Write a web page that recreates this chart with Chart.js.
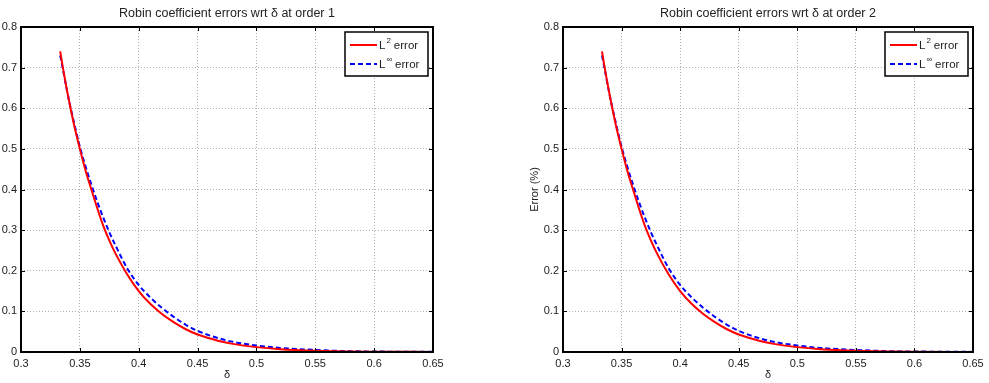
<!DOCTYPE html>
<html lang="en">
<head>
  <meta charset="UTF-8">
  <script src="https://cdn.jsdelivr.net/npm/chart.js"></script>
  <title>Robin coefficient errors</title>
  <style>
    body{margin:0;background:#fff;width:989px;height:383px;overflow:hidden;}
    .box{position:absolute;top:0;height:383px;}
    #wrap1{left:0;width:490px;}
    #wrap2{left:490px;width:499px;}
  </style>
</head>
<body>
  <div class="box" id="wrap1"><canvas id="chart1"></canvas></div>
  <div class="box" id="wrap2"><canvas id="chart2"></canvas></div>
<script>
  // data
  const deltaValues = [0.3333, 0.335, 0.34, 0.345, 0.35, 0.355, 0.36, 0.365, 0.37, 0.375, 0.38, 0.39, 0.40, 0.41, 0.42, 0.43, 0.44, 0.45, 0.46, 0.47, 0.48, 0.50, 0.52, 0.55, 0.58, 0.60, 0.65]
  const l2Order1   = [0.74, 0.71, 0.63, 0.56, 0.50, 0.445, 0.398, 0.352, 0.31, 0.275, 0.244, 0.192, 0.15, 0.118, 0.093, 0.073, 0.056, 0.043, 0.034, 0.026, 0.020, 0.012, 0.007, 0.003, 0.0013, 0.0008, 0.0001]
  const linfOrder1 = [0.73, 0.705, 0.63, 0.565, 0.505, 0.455, 0.41, 0.368, 0.33, 0.295, 0.264, 0.207, 0.165, 0.134, 0.108, 0.086, 0.067, 0.052, 0.041, 0.032, 0.025, 0.016, 0.010, 0.005, 0.002, 0.0012, 0.0003]
  const l2Order2   = [0.74, 0.71, 0.63, 0.56, 0.50, 0.445, 0.398, 0.352, 0.31, 0.275, 0.244, 0.192, 0.15, 0.118, 0.093, 0.073, 0.056, 0.043, 0.034, 0.026, 0.020, 0.012, 0.007, 0.003, 0.0013, 0.0008, 0.0001]
  const linfOrder2 = [0.73, 0.705, 0.63, 0.565, 0.505, 0.455, 0.41, 0.368, 0.33, 0.295, 0.264, 0.207, 0.165, 0.134, 0.108, 0.086, 0.067, 0.052, 0.041, 0.032, 0.025, 0.016, 0.010, 0.005, 0.002, 0.0012, 0.0003]
  const xTicks = [0.3, 0.35, 0.4, 0.45, 0.5, 0.55, 0.6, 0.65]
  const yTicks = [0, 0.1, 0.2, 0.3, 0.4, 0.5, 0.6, 0.7, 0.8]
  const legendNames = ['L² error', 'L∞ error']

  const FONT = 'Liberation Sans, Arial, Helvetica, sans-serif'
  Chart.defaults.font.family = FONT
  Chart.defaults.color = '#222'

  function pts(ys){
    return deltaValues.map((x, i) => ({x: x, y: ys[i]}))
  }

  // matlab style box, inward ticks and legend
  const matlabBox = {
    id: 'matlabBox',
    afterDraw(chart){
      const ctx = chart.ctx
      const a = chart.chartArea
      const xs = chart.scales.x, ys = chart.scales.y
      ctx.save()
      ctx.strokeStyle = '#000'
      ctx.lineWidth = 1
      ctx.beginPath()
      xTicks.forEach(v => {
        const px = Math.round(xs.getPixelForValue(v)) + 0.5
        ctx.moveTo(px, a.bottom); ctx.lineTo(px, a.bottom - 4)
        ctx.moveTo(px, a.top); ctx.lineTo(px, a.top + 4)
      })
      yTicks.forEach(v => {
        const py = Math.round(ys.getPixelForValue(v)) + 0.5
        ctx.moveTo(a.left, py); ctx.lineTo(a.left + 4, py)
        ctx.moveTo(a.right, py); ctx.lineTo(a.right - 4, py)
      })
      ctx.stroke()
      ctx.lineWidth = 2
      ctx.strokeRect(a.left, a.top, a.right - a.left, a.bottom - a.top)

      // legend
      const w = 83, h = 44
      const lx = a.right - 5 - w, ly = a.top + 5
      ctx.fillStyle = '#fff'
      ctx.fillRect(lx, ly, w, h)
      ctx.lineWidth = 1.5
      ctx.strokeRect(lx, ly, w, h)
      chart.data.datasets.forEach((ds, i) => {
        const cy = ly + 13 + i * 19
        ctx.strokeStyle = ds.borderColor
        ctx.lineWidth = 2
        ctx.setLineDash(ds.borderDash || [])
        ctx.beginPath()
        ctx.moveTo(lx + 5, cy); ctx.lineTo(lx + 32, cy)
        ctx.stroke()
        ctx.setLineDash([])
        const lbl = ds.label
        ctx.fillStyle = '#222'
        ctx.textBaseline = 'middle'
        ctx.font = '11.5px ' + FONT
        ctx.fillText(lbl[0], lx + 34, cy + 1)
        let tx = lx + 34 + ctx.measureText(lbl[0]).width + 1
        const sup = lbl[1] === '²' ? '2' : '∞'
        ctx.font = '8px ' + FONT
        ctx.fillText(sup, tx, cy - 4)
        tx += ctx.measureText(sup).width + 3
        ctx.font = '11.5px ' + FONT
        ctx.fillText(lbl.slice(3), tx, cy + 1)
      })
      ctx.restore()
    }
  }

  function makeChart(id, title, l2, linf, yTitle, yWidth, padRight){
    return new Chart(document.getElementById(id), {
      type: 'line',
      data: {
        datasets: [
          {label: legendNames[0], data: pts(l2), borderColor: '#ff0000', borderWidth: 2, pointRadius: 0, cubicInterpolationMode: 'monotone'},
          {label: legendNames[1], data: pts(linf), borderColor: '#0000ff', borderWidth: 2, borderDash: [5, 3], pointRadius: 0, cubicInterpolationMode: 'monotone'}
        ]
      },
      options: {
        responsive: true,
        maintainAspectRatio: false,
        animation: false,
        layout: {padding: {left: 0, right: padRight, top: 0, bottom: 0}},
        plugins: {
          legend: {display: false},
          tooltip: {enabled: false},
          title: {display: true, text: title, fullSize: false, color: '#222',
                  font: {size: 12.5, weight: 'normal', family: FONT}, padding: {top: 6, bottom: 6}}
        },
        scales: {
          x: {
            type: 'linear', min: 0.3, max: 0.65,
            afterBuildTicks: s => { s.ticks = xTicks.map(v => ({value: v})) },
            afterFit: s => { s.height = 31 },
            ticks: {font: {size: 11}, color: '#222', padding: 5, maxRotation: 0,
                    callback: v => String(Number(v.toFixed(2)))},
            grid: {color: '#b0b0b0', drawTicks: false, lineWidth: 1},
            border: {display: false, dash: [1, 2]},
            title: {display: true, text: 'δ', font: {size: 11}, color: '#222', padding: {top: 0, bottom: 1}}
          },
          y: {
            min: 0, max: 0.8,
            afterBuildTicks: s => { s.ticks = yTicks.map(v => ({value: v})) },
            afterFit: s => { s.width = yWidth },
            ticks: {font: {size: 11}, color: '#222', padding: 4,
                    callback: v => String(Number(v.toFixed(1)))},
            grid: {color: '#b0b0b0', drawTicks: false, lineWidth: 1},
            border: {display: false, dash: [1, 2]},
            title: {display: !!yTitle, text: yTitle, font: {size: 11}, color: '#222', padding: {top: 38, bottom: 0}}
          }
        }
      },
      plugins: [matlabBox]
    })
  }

  makeChart('chart1', 'Robin coefficient errors wrt δ at order 1', l2Order1, linfOrder1, '', 21, 57)
  makeChart('chart2', 'Robin coefficient errors wrt δ at order 2', l2Order2, linfOrder2, 'Error (%)', 73, 16)
</script>
</body>
</html>
